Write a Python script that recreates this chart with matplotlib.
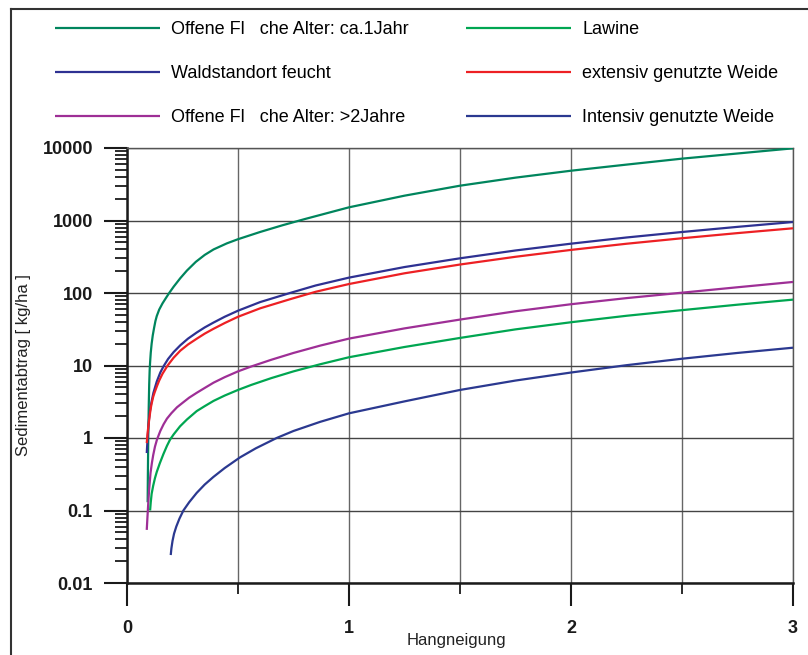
import matplotlib
matplotlib.use("Agg")
import matplotlib.pyplot as plt
from matplotlib.lines import Line2D
from matplotlib.ticker import LogLocator, NullFormatter, FixedLocator, FixedFormatter

plt.rcParams['font.family'] = ['Liberation Sans', 'DejaVu Sans']

# ---- data ----
labels = ["Offene Fl   che Alter: ca.1Jahr", "Waldstandort feucht",
          "Offene Fl   che Alter: >2Jahre", "Lawine",
          "extensiv genutzte Weide", "Intensiv genutzte Weide"]
colors = ["#00855D", "#2E3192", "#9E2F96", "#00A651", "#ED2024", "#2B3990"]

x_ca1 = [0.093, 0.094, 0.095, 0.096, 0.098, 0.100, 0.102, 0.104, 0.107, 0.111, 0.116,
         0.122, 0.128, 0.134, 0.145, 0.16, 0.175, 0.19, 0.21, 0.24, 0.27, 0.31, 0.35,
         0.39, 0.45, 0.50, 0.60, 0.70, 0.80, 1.0, 1.25, 1.5, 1.75, 2.0, 2.25, 2.5,
         2.75, 3.0]
y_ca1 = [0.13, 0.3, 0.6, 1.2, 2.8, 5.5, 8.5, 11.0, 15.0, 20.0, 26.0,
         33.0, 41.0, 48.0, 59.0, 72.0, 85.0, 100.0, 122.0, 160.0, 204.0, 269.0, 335.0,
         399.0, 484.0, 552.0, 695.0, 859.0, 1045.0, 1520.0, 2200.0, 3020.0, 3900.0,
         4860.0, 5900.0, 7130.0, 8400.0, 9900.0]

x_wald = [0.089, 0.091, 0.093, 0.096, 0.099, 0.104, 0.110, 0.119, 0.134, 0.15, 0.165,
          0.185, 0.21, 0.24, 0.275, 0.314, 0.35, 0.389, 0.44, 0.5, 0.6, 0.734, 0.85,
          1.0, 1.25, 1.5, 1.75, 2.0, 2.25, 2.5, 2.75, 3.0]
y_wald = [0.62, 0.8, 1.0, 1.4, 1.8, 2.4, 3.1, 4.2, 6.0, 8.0, 9.8,
          12.3, 15.3, 19.0, 23.5, 28.5, 33.5, 39.0, 47.0, 57.0, 75.0, 100.0, 127.0,
          163.0, 228.0, 301.0, 386.0, 479.0, 583.0, 694.0, 817.0, 953.0]

x_ext = [0.089, 0.092, 0.095, 0.100, 0.105, 0.110, 0.118, 0.125, 0.135, 0.145, 0.16,
         0.183, 0.21, 0.24, 0.275, 0.314, 0.35, 0.389, 0.44, 0.5, 0.6, 0.734, 0.85,
         1.0, 1.25, 1.5, 1.75, 2.0, 2.25, 2.5, 2.75, 3.0]
y_ext = [0.85, 1.1, 1.35, 1.8, 2.35, 2.9, 3.7, 4.3, 5.2, 6.2, 7.7,
         10.0, 12.8, 16.0, 19.5, 23.4, 27.5, 32.0, 38.5, 47.0, 61.5, 82.0, 104.0,
         133.0, 187.0, 247.0, 316.0, 393.0, 478.0, 569.0, 670.0, 781.0]

x_alt2 = [0.089, 0.092, 0.096, 0.100, 0.106, 0.112, 0.118, 0.126, 0.135, 0.15, 0.165,
          0.18, 0.20, 0.225, 0.25, 0.28, 0.314, 0.35, 0.39, 0.44, 0.5, 0.56, 0.65,
          0.75, 0.87, 1.0, 1.25, 1.5, 1.75, 2.0, 2.25, 2.5, 2.75, 3.0]
y_alt2 = [0.054, 0.08, 0.13, 0.2, 0.33, 0.45, 0.58, 0.76, 0.95, 1.25, 1.55,
          1.85, 2.2, 2.65, 3.05, 3.6, 4.2, 4.9, 5.8, 6.9, 8.3, 9.7, 12.0,
          14.9, 18.8, 23.5, 32.5, 43.0, 56.0, 70.0, 85.0, 101.0, 120.0, 142.0]

x_law = [0.104, 0.107, 0.111, 0.118, 0.126, 0.134, 0.148, 0.164, 0.18, 0.194, 0.21,
         0.239, 0.27, 0.314, 0.35, 0.39, 0.44, 0.5, 0.56, 0.65, 0.75, 0.87, 1.0,
         1.25, 1.5, 1.75, 2.0, 2.25, 2.5, 2.75, 3.0]
y_law = [0.1, 0.13, 0.17, 0.22, 0.28, 0.34, 0.45, 0.6, 0.78, 0.95, 1.12,
         1.45, 1.8, 2.35, 2.75, 3.25, 3.85, 4.6, 5.4, 6.7, 8.3, 10.4, 13.0,
         18.0, 24.0, 31.5, 39.5, 48.5, 58.0, 69.0, 81.0]

x_int = [0.197, 0.200, 0.205, 0.212, 0.222, 0.236, 0.254, 0.28, 0.314, 0.35, 0.389,
         0.44, 0.509, 0.58, 0.674, 0.75, 0.87, 1.0, 1.25, 1.5, 1.75, 2.0, 2.25, 2.5,
         2.75, 3.0]
y_int = [0.0243, 0.03, 0.038, 0.048, 0.06, 0.077, 0.1, 0.13, 0.175, 0.228, 0.29,
         0.385, 0.54, 0.72, 1.0, 1.25, 1.67, 2.19, 3.2, 4.6, 6.2, 8.0, 10.1, 12.4,
         14.9, 17.6]

xs = [x_ca1, x_wald, x_alt2, x_law, x_ext, x_int]
ys = [y_ca1, y_wald, y_alt2, y_law, y_ext, y_int]

x_major = [0, 1, 2, 3]
x_minor = [0.5, 1.5, 2.5]
y_ticks = [0.01, 0.1, 1, 10, 100, 1000, 10000]
y_ticklabels = ["0.01", "0.1", "1", "10", "100", "1000", "10000"]

# ---- figure ----
W, H = 808, 655
fig = plt.figure(figsize=(W / 100, H / 100), dpi=100)
ax = fig.add_axes([127 / W, 1 - 583 / H, (793 - 127) / W, (583 - 148) / H])

handles = []
for x, y, c, lab in zip(xs, ys, colors, labels):
    h, = ax.plot(x, y, color=c, lw=1.6, label=lab, solid_capstyle='butt',
                 solid_joinstyle='round', zorder=3)
    handles.append(h)

ax.set_yscale('log')
ax.set_xlim(0, 3)
ax.set_ylim(0.01, 10000)

ax.xaxis.set_major_locator(FixedLocator(x_major))
ax.xaxis.set_major_formatter(FixedFormatter([str(v) for v in x_major]))
ax.xaxis.set_minor_locator(FixedLocator(x_minor))
ax.yaxis.set_major_locator(FixedLocator(y_ticks))
ax.yaxis.set_major_formatter(FixedFormatter(y_ticklabels))
ax.yaxis.set_minor_locator(LogLocator(base=10, subs=range(2, 10), numticks=20))
ax.yaxis.set_minor_formatter(NullFormatter())

ax.tick_params(axis='both', which='major', direction='out', length=16.5, width=1.5,
               color='#1a1a1a', labelsize=13)
ax.tick_params(axis='y', which='minor', direction='out', length=8.5, width=1.3, color='#1a1a1a')
ax.tick_params(axis='x', which='minor', direction='out', length=8, width=1.3, color='#1a1a1a')
ax.tick_params(axis='y', which='major', pad=8)
ax.tick_params(axis='x', which='major', pad=10)
for t in ax.get_xticklabels() + ax.get_yticklabels():
    t.set_fontweight('bold')
    t.set_color('#1a1a1a')

ax.grid(True, which='major', axis='y', color='#444444', lw=1.0, zorder=1)
ax.grid(True, which='both', axis='x', color='#666666', lw=1.0, zorder=1)

ax.spines['left'].set_linewidth(1.8)
ax.spines['bottom'].set_linewidth(1.8)
ax.spines['left'].set_color('#1a1a1a')
ax.spines['bottom'].set_color('#1a1a1a')
for s in ('top', 'right'):
    ax.spines[s].set_color('#555555')
    ax.spines[s].set_linewidth(1.0)

ax.set_ylabel("Sedimentabtrag [ kg/ha ]", fontsize=12, color='#222222')
ax.yaxis.set_label_coords((31 - 127) / 666, 0.5)
ax.set_xlabel("Hangneigung", fontsize=12, color='#222222')
ax.xaxis.set_label_coords(0.495, -(633 - 583) / 435)

# ---- legend: two columns ----
leg_kw = dict(loc='upper left', frameon=False, borderpad=0, borderaxespad=0,
              handlelength=5.8, handletextpad=0.65, labelspacing=1.5,
              prop={'size': 13})
top = 1 - 21 / H
fig.legend(handles[:3], labels[:3], bbox_to_anchor=(55 / W, top), **leg_kw)
fig.legend(handles[3:], labels[3:], bbox_to_anchor=(466 / W, top), **leg_kw)

# ---- outer frame ----
fig.add_artist(Line2D([10.5 / W, 10.5 / W], [0, 1 - 9 / H], transform=fig.transFigure,
                      color='#333333', lw=1.5))
fig.add_artist(Line2D([10.5 / W, 1], [1 - 9 / H, 1 - 9 / H], transform=fig.transFigure,
                      color='#333333', lw=1.5))

fig.savefig("out.png", dpi=100)
